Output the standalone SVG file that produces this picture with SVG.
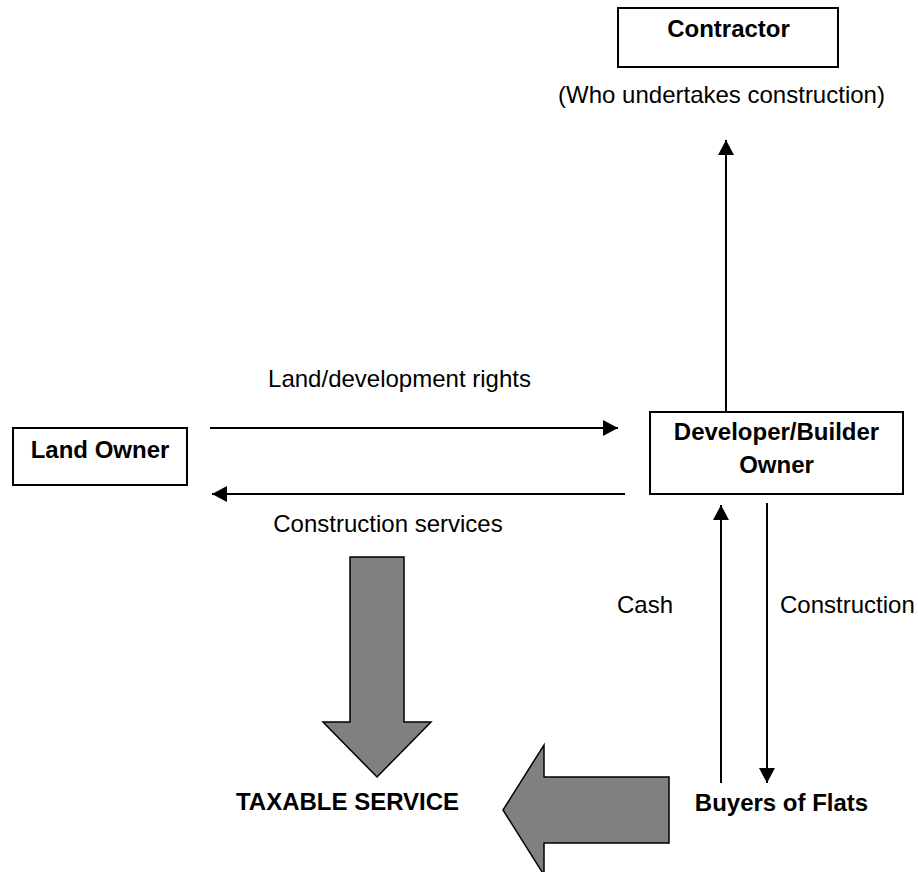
<svg xmlns="http://www.w3.org/2000/svg" width="918" height="872" viewBox="0 0 918 872">
  <style>
    .box { fill: #ffffff; stroke: #000000; stroke-width: 2; }
    .bold { font-family: "Liberation Sans", Arial, sans-serif; font-weight: bold; font-size: 24px; fill: #000000; }
    .label { font-family: "Liberation Sans", Arial, sans-serif; font-size: 24px; fill: #000000; }
    .link { stroke: #000000; stroke-width: 2; fill: none; marker-end: url(#head); }
    .line { stroke: #000000; stroke-width: 2; fill: none; }
    .block { fill: #808080; stroke: #000000; stroke-width: 1.5; stroke-linejoin: miter; }
  </style>
  <defs>
    <marker id="head" markerUnits="userSpaceOnUse" markerWidth="16" markerHeight="16" refX="15" refY="8" orient="auto">
      <path d="M0,0 L15,8 L0,16 Z" fill="#000000"/>
    </marker>
  </defs>
  <rect width="918" height="872" fill="#ffffff"/>

  <!-- Contractor -->
  <g id="contractor">
    <rect class="box" x="618" y="8" width="220" height="59"/>
    <text class="bold" x="728.5" y="37" text-anchor="middle">Contractor</text>
    <text class="label" x="721.5" y="103" text-anchor="middle">(Who undertakes construction)</text>
  </g>

  <!-- Land Owner -->
  <g id="land-owner">
    <rect class="box" x="13" y="428" width="174" height="57"/>
    <text class="bold" x="100" y="458" text-anchor="middle">Land Owner</text>
  </g>

  <!-- Developer / Builder -->
  <g id="developer">
    <rect class="box" x="650" y="412" width="253" height="82"/>
    <text class="bold" x="776.5" y="440" text-anchor="middle">Developer/Builder</text>
    <text class="bold" x="776.5" y="473" text-anchor="middle">Owner</text>
  </g>

  <!-- Buyers of Flats -->
  <g id="buyers">
    <text class="bold" x="781.5" y="811" text-anchor="middle">Buyers of Flats</text>
  </g>

  <!-- Taxable service -->
  <g id="taxable-service">
    <text class="bold" x="347.5" y="810" text-anchor="middle">TAXABLE SERVICE</text>
  </g>

  <!-- Connectors -->
  <g id="connectors">
    <line class="link" x1="726" y1="412" x2="726" y2="140"/>
    <line class="link" x1="210" y1="428" x2="618" y2="428"/>
    <text class="label" x="399.5" y="387" text-anchor="middle">Land/development rights</text>
    <line class="link" x1="625" y1="494" x2="212" y2="494"/>
    <text class="label" x="388" y="532" text-anchor="middle">Construction services</text>
    <line class="link" x1="721" y1="783" x2="721" y2="505"/>
    <text class="label" x="673" y="613" text-anchor="end">Cash</text>
    <line class="link" x1="767" y1="503" x2="767" y2="783"/>
    <text class="label" x="780" y="613">Construction</text>
  </g>

  <!-- Block arrows -->
  <g id="block-arrows">
    <path class="block" d="M350,557 L404,557 L404,722 L431,722 L377,777 L323,722 L350,722 Z"/>
    <path class="block" d="M669,777 L669,843 L544,843 L544,875 L503,810 L544,745 L544,777 Z"/>
  </g>
</svg>
